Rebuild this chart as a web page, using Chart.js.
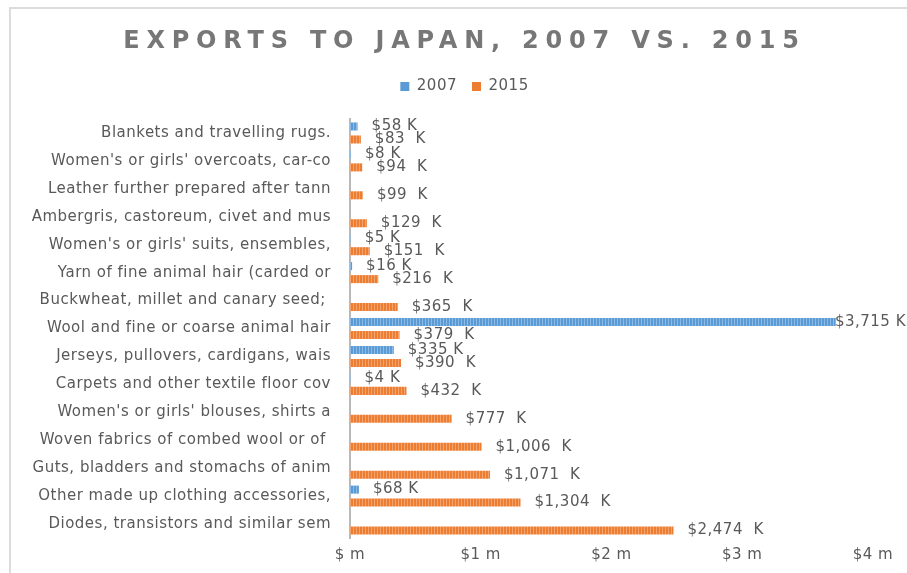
<!DOCTYPE html>
<html>
<head>
<meta charset="utf-8">
<script src="https://cdn.jsdelivr.net/npm/chart.js@4/dist/chart.umd.min.js"></script>
<style>
    body { margin: 0; background: #fff; }
    #wrap { position: relative; width: 907px; height: 573px; overflow: hidden; }
    #frame {
        position: absolute; left: 9px; top: 7px; width: 960px; height: 640px;
        border-top: 2px solid #dcdcdc; border-left: 2px solid #dcdcdc;
        pointer-events: none;
    }
</style>
</head>
<body>
<div id="wrap">
    <canvas id="exports-chart" width="907" height="573"></canvas>
    <div id="frame"></div>
</div>
<script>
const chart_title = "EXPORTS TO JAPAN, 2007 VS. 2015";

const categories = [
    "Blankets and travelling rugs.",
    "Women's or girls' overcoats, car-co",
    "Leather further prepared after tann",
    "Ambergris, castoreum, civet and mus",
    "Women's or girls' suits, ensembles,",
    "Yarn of fine animal hair (carded or",
    "Buckwheat, millet and canary seed; ",
    "Wool and fine or coarse animal hair",
    "Jerseys, pullovers, cardigans, wais",
    "Carpets and other textile floor cov",
    "Women's or girls' blouses, shirts a",
    "Woven fabrics of combed wool or of ",
    "Guts, bladders and stomachs of anim",
    "Other made up clothing accessories,",
    "Diodes, transistors and similar sem"
];

// values in thousands of dollars
const exports_2007 = [58, 8, null, null, 5, 16, null, 3715, 335, 4, null, null, null, 68, null];
const exports_2015 = [83, 94, 99, 129, 151, 216, 365, 379, 390, 432, 777, 1006, 1071, 1304, 2474];

const tick_labels = ["$ m", "$1 m", "$2 m", "$3 m", "$4 m"];

const text_grey = "#595959";
const font_family = "'DejaVu Sans', sans-serif";

// thin vertical stripes like the original bar fill
function stripes(base, light) {
    const c = document.createElement("canvas");
    c.width = 3;
    c.height = 1;
    const g = c.getContext("2d");
    g.fillStyle = base;
    g.fillRect(0, 0, 3, 1);
    g.fillStyle = light;
    g.fillRect(2, 0, 1, 1);
    return g.createPattern(c, "repeat");
}

const spacing_plugin = {
    id: "spacing",
    beforeLayout(chart) { chart.ctx.letterSpacing = "0.5px"; },
    beforeDraw(chart) { chart.ctx.letterSpacing = "0.5px"; }
};

const title_plugin = {
    id: "spacedTitle",
    afterDraw(chart) {
        const ctx = chart.ctx;
        ctx.save();
        ctx.font = "bold 24px " + font_family;
        ctx.letterSpacing = "6.8px";
        ctx.fillStyle = "#777777";
        ctx.textAlign = "center";
        ctx.textBaseline = "alphabetic";
        ctx.fillText(chart_title, chart.width / 2 + 11, 48);
        ctx.restore();
    }
};

const value_labels = {
    id: "valueLabels",
    afterDatasetsDraw(chart) {
        const ctx = chart.ctx;
        ctx.save();
        ctx.font = "15px " + font_family;
        ctx.fillStyle = text_grey;
        ctx.textBaseline = "middle";
        chart.data.datasets.forEach((ds, i) => {
            chart.getDatasetMeta(i).data.forEach((bar, j) => {
                const v = ds.data[j];
                if (v === null) return;
                const text = "$" + v.toLocaleString("en-US") + ds.label_suffix;
                const w = ctx.measureText(text).width;
                const x = Math.min(bar.x + 14, chart.width - w - 1);
                ctx.fillText(text, x, bar.y);
            });
        });
        ctx.restore();
    }
};

const solid_colors = ["#5B9BD5", "#ED7D31"];

new Chart(document.getElementById("exports-chart"), {
    type: "bar",
    data: {
        labels: categories,
        datasets: [{
            label: "2007",
            data: exports_2007,
            backgroundColor: stripes("#5B9BD5", "#8CBAE4"),
            label_suffix: " K",
            categoryPercentage: 0.93,
            barPercentage: 0.62
        }, {
            label: "2015",
            data: exports_2015,
            backgroundColor: stripes("#ED7D31", "#F3A46E"),
            label_suffix: "  K",
            categoryPercentage: 0.93,
            barPercentage: 0.62
        }]
    },
    options: {
        indexAxis: "y",
        responsive: false,
        animation: false,
        devicePixelRatio: 1,
        layout: {
            padding: { top: 64, right: 0, bottom: 9, left: 22 }
        },
        scales: {
            x: {
                min: 0,
                max: 4000,
                grid: { display: false },
                border: { display: false },
                ticks: {
                    stepSize: 1000,
                    padding: 0,
                    color: text_grey,
                    font: { family: font_family, size: 15 },
                    callback: (value, index) => tick_labels[index]
                },
                afterFit(scale) { scale.paddingRight = 34; }
            },
            y: {
                grid: { display: false },
                border: { display: true, color: "#b9b9b9", width: 2 },
                ticks: {
                    padding: 11,
                    color: text_grey,
                    font: { family: font_family, size: 15 }
                },
                afterFit(scale) { scale.width = 328; }
            }
        },
        plugins: {
            legend: {
                position: "top",
                labels: {
                    boxWidth: 9,
                    boxHeight: 9,
                    padding: 15,
                    color: text_grey,
                    font: { family: font_family, size: 15 },
                    generateLabels(chart) {
                        return Chart.defaults.plugins.legend.labels.generateLabels(chart).map((item, i) => {
                            item.fillStyle = solid_colors[i];
                            item.strokeStyle = solid_colors[i];
                            item.lineWidth = 0;
                            return item;
                        });
                    }
                }
            },
            // empty spacer between legend and plot
            subtitle: {
                display: true,
                text: "",
                weight: 500,
                padding: 0,
                font: { size: 12.5 }
            },
            tooltip: { enabled: false }
        }
    },
    plugins: [spacing_plugin, title_plugin, value_labels]
});
</script>
</body>
</html>
